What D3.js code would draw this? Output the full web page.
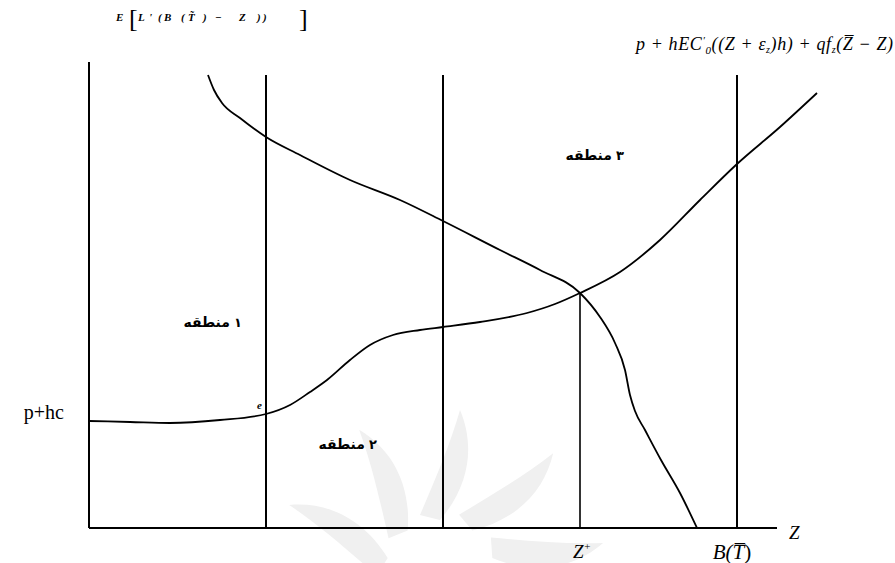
<!DOCTYPE html>
<html><head><meta charset="utf-8">
<script src="https://cdn.jsdelivr.net/npm/d3@7"></script>
<style>body{margin:0;background:#fff}svg{display:block}</style>
</head><body>
<svg id="c" width="895" height="563"></svg>
<script>
// Data (arbitrary units: x from the vertical axis, y up from the Z axis)
const curveMarginalLoss = [[119,453],[125,438],[133,425],[151,410],[177,391],[211,373],[261,348],[311,328],[354,307],[411,278],[451,258],[491,235],[511,211],[526,185],[536,158],[541,133],[546,117],[556,98],[572,68],[591,35],[608,0]];
const curveMarginalCost = [[0,107],[41,106],[81,105],[131,108],[177,114],[201,123],[221,136],[238,148],[261,168],[281,183],[304,193],[331,198],[354,201],[391,206],[438,215],[466,224],[491,235],[531,256],[571,288],[611,328],[648,364],[691,401],[728,435]];
const verticalX = [177, 354, 648];
const verticalTop = [453, 453, 453];
const zStar = 491, zStarY = 235;
const regionWord = "منطقه";
const regionDigits = ["۱", "۲", "۳"];
const regionPos = [[121, 201], [256, 79], [503, 368]];

const svg = d3.select("#c");
const x = d3.scaleLinear().domain([0, 688]).range([89, 777]);
const y = d3.scaleLinear().domain([0, 466]).range([528, 62]);

// faint watermark
const wm = svg.append("g").attr("transform", "translate(440,575)");
d3.range(10).forEach(i => {
  wm.append("path")
    .attr("d", "M0,-55 C30,-90 35,-130 20,-165 C10,-130 -5,-95 -20,-60 Z")
    .attr("transform", `rotate(${i * 36})`)
    .attr("fill", "#f0f0f0");
});

// axes
svg.append("line").attr("x1", x(0)).attr("x2", x(0)).attr("y1", y(0)).attr("y2", y(466))
  .attr("stroke", "#000").attr("stroke-width", 2);
svg.append("line").attr("x1", x(0)).attr("x2", x(688)).attr("y1", y(0)).attr("y2", y(0))
  .attr("stroke", "#000").attr("stroke-width", 2);

// vertical lines
verticalX.forEach((v, i) => {
  svg.append("line").attr("x1", x(v)).attr("x2", x(v)).attr("y1", y(0)).attr("y2", y(verticalTop[i]))
    .attr("stroke", "#000").attr("stroke-width", 2);
});
svg.append("line").attr("x1", x(zStar)).attr("x2", x(zStar)).attr("y1", y(0)).attr("y2", y(zStarY))
  .attr("stroke", "#000").attr("stroke-width", 1.6);

const line = d3.line().x(d => x(d[0])).y(d => y(d[1])).curve(d3.curveMonotoneX);
[curveMarginalLoss, curveMarginalCost].forEach(c => {
  svg.append("path").attr("d", line(c)).attr("fill", "none").attr("stroke", "#000").attr("stroke-width", 1.8);
});

// region labels: word, then the digit to its right
regionDigits.forEach((dg, i) => {
  const cx = x(regionPos[i][0]), cy = y(regionPos[i][1]);
  svg.append("text").attr("x", cx + 20).attr("y", cy).attr("text-anchor", "end")
    .attr("font-family", "DejaVu Sans").attr("font-size", 14).attr("font-weight", "bold").text(regionWord);
  svg.append("text").attr("x", cx + 24).attr("y", cy).attr("text-anchor", "start")
    .attr("font-family", "DejaVu Sans").attr("font-size", 13).attr("font-weight", "bold").text(dg);
});

// p+hc
svg.append("text").attr("x", 64).attr("y", y(107) - 2).attr("text-anchor", "end")
  .attr("font-family", "Liberation Serif").attr("font-size", 20).text("p+hc");
// small mark
svg.append("text").attr("x", 257).attr("y", 409).attr("font-family", "Liberation Serif")
  .attr("font-size", 11).attr("font-weight", "bold").attr("font-style", "italic").text("e");

// axis labels
const serif = "Liberation Serif";
svg.append("text").attr("x", 789).attr("y", 539).attr("font-family", serif).attr("font-style", "italic")
  .attr("font-size", 19).text("Z");
const zs = svg.append("text").attr("x", x(zStar) + 2).attr("y", 558).attr("text-anchor", "middle")
  .attr("font-family", serif).attr("font-style", "italic").attr("font-size", 19);
zs.append("tspan").text("Z");
zs.append("tspan").attr("dy", -8).attr("font-size", 11).text("+");
const bt = svg.append("text").attr("x", x(648) - 5).attr("y", 559).attr("text-anchor", "middle")
  .attr("font-family", serif).attr("font-style", "italic").attr("font-size", 21);
bt.append("tspan").text("B(");
bt.append("tspan").text("T\u0305");
bt.append("tspan").attr("font-style", "normal").text(")");

// top-left formula (pieces placed along the line)
const f1pieces = [["E", 116], ["L", 138], ["'", 149], ["(", 158], ["B", 164], ["(", 181], ["T\u0303", 188], [")", 203], ["−", 215], ["Z", 239], [")", 257], [")", 263]];
const f1 = svg.append("g").attr("font-family", serif).attr("font-style", "italic")
  .attr("font-size", 11).attr("font-weight", "bold");
f1pieces.forEach(p => f1.append("text").attr("x", p[1]).attr("y", 21).text(p[0]));
[["[", 129], ["]", 299]].forEach(p => svg.append("text").attr("x", p[1]).attr("y", 27)
  .attr("font-family", serif).attr("font-size", 26).text(p[0]));

// top-right formula
const f2 = svg.append("text").attr("x", 636).attr("y", 50)
  .attr("font-family", serif).attr("font-style", "italic").attr("font-size", 18)
  .attr("textLength", 257).attr("lengthAdjust", "spacing");
f2.append("tspan").text("p + hEC");
f2.append("tspan").attr("font-size", 11).attr("dy", -6).text("′");
f2.append("tspan").attr("font-size", 11).attr("dy", 10).text("0");
f2.append("tspan").attr("dy", -4).text("((Z + ε");
f2.append("tspan").attr("font-size", 10).attr("dy", 3).text("z");
f2.append("tspan").attr("dy", -3).text(")h) + qf");
f2.append("tspan").attr("font-size", 10).attr("dy", 3).text("z");
f2.append("tspan").attr("dy", -3).text("(Z\u0305 − Z)");
</script>
</body></html>
